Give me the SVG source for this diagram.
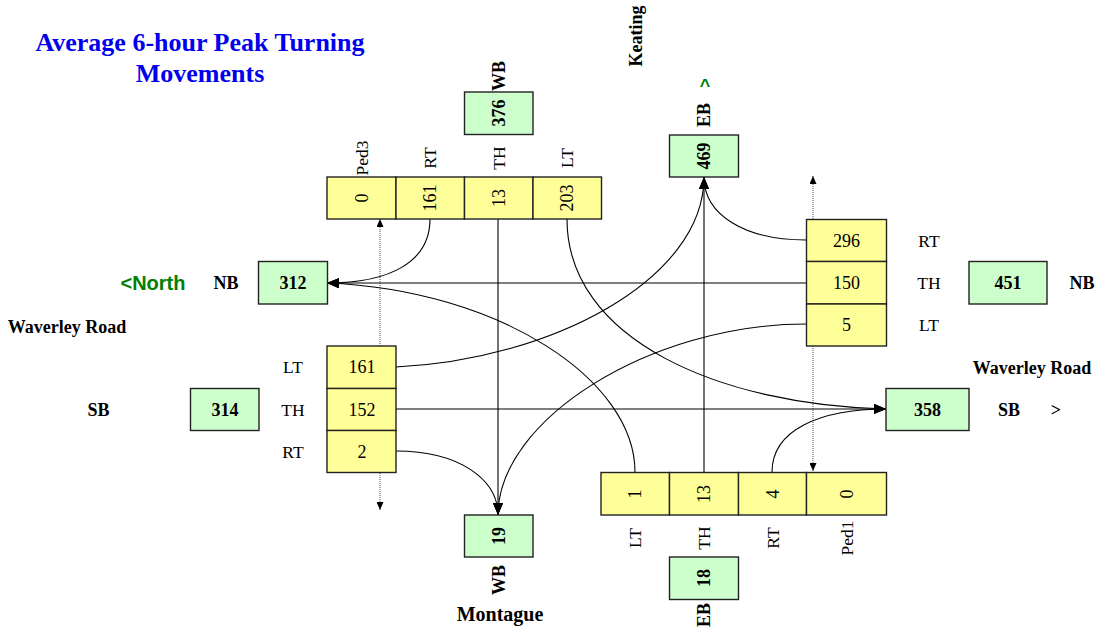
<svg xmlns="http://www.w3.org/2000/svg" width="1099" height="635" viewBox="0 0 1099 635">
  <style>
    .bg { fill: #ffffff; }
    .cell { fill: #ffff99; stroke: #222; stroke-width: 1.4; }
    .tot { fill: #ccffcc; stroke: #222; stroke-width: 1.4; }
    .val { font-family: "Liberation Serif", "Times New Roman", serif; font-size: 18px; fill: #000; text-anchor: middle; dominant-baseline: central; }
    .num { font-family: "Liberation Serif", "Times New Roman", serif; font-size: 18px; font-weight: bold; fill: #000; text-anchor: middle; dominant-baseline: central; }
    .lab { font-family: "Liberation Serif", "Times New Roman", serif; font-size: 17.5px; fill: #000; text-anchor: middle; dominant-baseline: central; }
    .blab { font-family: "Liberation Serif", "Times New Roman", serif; font-size: 18px; font-weight: bold; fill: #000; text-anchor: middle; dominant-baseline: central; }
    .title { font-family: "Liberation Serif", "Times New Roman", serif; font-size: 26px; font-weight: bold; fill: #0000ee; text-anchor: middle; }
    .green { font-family: "Liberation Sans", Arial, sans-serif; font-weight: bold; fill: #008000; text-anchor: middle; dominant-baseline: central; }
    .flow { fill: none; stroke: #000; stroke-width: 1.1; marker-end: url(#arrow); }
    .ped { fill: none; stroke: #777; stroke-width: 1.3; stroke-dasharray: 1 1; marker-start: url(#parrow); marker-end: url(#parrow); }
  </style>
  <defs>
    <marker id="arrow" viewBox="0 0 12 10" refX="12" refY="5" markerWidth="12" markerHeight="10" markerUnits="userSpaceOnUse" orient="auto">
      <path d="M0,0 L12,5 L0,10 z" fill="#000"/>
    </marker>
    <marker id="parrow" viewBox="0 0 8 7" refX="8" refY="3.5" markerWidth="8" markerHeight="7" markerUnits="userSpaceOnUse" orient="auto-start-reverse">
      <path d="M0,0 L8,3.5 L0,7 z" fill="#000"/>
    </marker>
  </defs>

  <rect class="bg" x="0" y="0" width="1099" height="635"/>

  <!-- title -->
  <g id="title">
    <text class="title" x="200" y="51">Average 6-hour Peak Turning</text>
    <text class="title" x="200" y="82">Movements</text>
  </g>

  <!-- street names and compass -->
  <g id="streets">
    <text class="blab" transform="translate(636,36) rotate(-90)">Keating</text>
    <text class="blab" x="67" y="327">Waverley Road</text>
    <text class="blab" x="1032" y="368">Waverley Road</text>
    <text class="blab" x="500" y="614" style="font-size:20px">Montague</text>
    <text class="green" x="153" y="283" style="font-size:20px">&lt;North</text>
    <text class="green" x="705" y="86" style="font-size:18px">^</text>
  </g>

  <!-- connectors -->
  <g id="connectors">
    <path class="ped" d="M380,219 L380,510"/>
    <path class="ped" d="M813,176 L813,471"/>
    <path class="flow" d="M430,219 C430,262 390,283 327,283"/>
    <path class="flow" d="M498,219 L498,515"/>
    <path class="flow" d="M567,219 C567,340 720,405 886,409"/>
    <path class="flow" d="M806,240 C745,240 704,215 704,177"/>
    <path class="flow" d="M806,283 L327,283"/>
    <path class="flow" d="M806,324 C650,324 498,420 498,515"/>
    <path class="flow" d="M396,367 C550,360 704,280 704,177"/>
    <path class="flow" d="M396,409 L886,409"/>
    <path class="flow" d="M396,451 C460,451 498,480 498,515"/>
    <path class="flow" d="M635,472 C635,380 500,290 327,283"/>
    <path class="flow" d="M704,472 L704,177"/>
    <path class="flow" d="M772,472 C772,430 820,409 886,409"/>
  </g>

  <!-- north approach (top) -->
  <g id="approach-top">
    <rect class="cell" x="327" y="177" width="69" height="42"/>
    <rect class="cell" x="396" y="177" width="68.5" height="42"/>
    <rect class="cell" x="464.5" y="177" width="68.5" height="42"/>
    <rect class="cell" x="533" y="177" width="68.5" height="42"/>
    <text class="val" transform="translate(361.5,198) rotate(-90)">0</text>
    <text class="val" transform="translate(430,198) rotate(-90)">161</text>
    <text class="val" transform="translate(498.5,198) rotate(-90)">13</text>
    <text class="val" transform="translate(567,198) rotate(-90)">203</text>
    <text class="lab" transform="translate(361.5,158) rotate(-90)">Ped3</text>
    <text class="lab" transform="translate(430,158) rotate(-90)">RT</text>
    <text class="lab" transform="translate(498.5,158) rotate(-90)">TH</text>
    <text class="lab" transform="translate(567,158) rotate(-90)">LT</text>
  </g>

  <g id="total-top-in">
    <rect class="tot" x="464.5" y="92" width="68.5" height="42.5"/>
    <text class="num" transform="translate(498.5,113) rotate(-90)">376</text>
    <text class="blab" transform="translate(498.5,76) rotate(-90)">WB</text>
  </g>

  <g id="total-top-out">
    <rect class="tot" x="669.5" y="135" width="69" height="42"/>
    <text class="num" transform="translate(704,156) rotate(-90)">469</text>
    <text class="blab" transform="translate(704,115) rotate(-90)">EB</text>
  </g>

  <!-- east approach (right) -->
  <g id="approach-right">
    <rect class="cell" x="806.5" y="219.5" width="80" height="42"/>
    <rect class="cell" x="806.5" y="261.5" width="80" height="42.5"/>
    <rect class="cell" x="806.5" y="304" width="80" height="42"/>
    <text class="val" x="846.5" y="241">296</text>
    <text class="val" x="846.5" y="283">150</text>
    <text class="val" x="846.5" y="325">5</text>
    <text class="lab" x="929" y="241">RT</text>
    <text class="lab" x="929" y="283">TH</text>
    <text class="lab" x="929" y="325">LT</text>
  </g>

  <g id="total-right-in">
    <rect class="tot" x="969" y="261.5" width="78" height="42.5"/>
    <text class="num" x="1008" y="283">451</text>
    <text class="blab" x="1082" y="283">NB</text>
  </g>

  <g id="total-right-out">
    <rect class="tot" x="886" y="388.5" width="83" height="42"/>
    <text class="num" x="927.5" y="410">358</text>
    <text class="blab" x="1009" y="410">SB</text>
    <text class="blab" x="1056" y="410">&gt;</text>
  </g>

  <!-- west approach (left) -->
  <g id="total-left-out">
    <rect class="tot" x="258.5" y="261.5" width="69" height="42.5"/>
    <text class="num" x="293" y="283">312</text>
    <text class="blab" x="226" y="283">NB</text>
  </g>

  <g id="approach-left">
    <rect class="cell" x="327" y="346" width="69" height="42.5"/>
    <rect class="cell" x="327" y="388.5" width="69" height="42"/>
    <rect class="cell" x="327" y="430.5" width="69" height="42"/>
    <text class="val" x="362" y="367">161</text>
    <text class="val" x="362" y="409.5">152</text>
    <text class="val" x="362" y="451.5">2</text>
    <text class="lab" x="293" y="367">LT</text>
    <text class="lab" x="293" y="409.5">TH</text>
    <text class="lab" x="293" y="451.5">RT</text>
  </g>

  <g id="total-left-in">
    <rect class="tot" x="190.5" y="388.5" width="68.5" height="42"/>
    <text class="num" x="225" y="409.5">314</text>
    <text class="blab" x="98.5" y="409.5">SB</text>
  </g>

  <!-- south approach (bottom) -->
  <g id="approach-bottom">
    <rect class="cell" x="601" y="472.5" width="68.5" height="42.5"/>
    <rect class="cell" x="669.5" y="472.5" width="69" height="42.5"/>
    <rect class="cell" x="738.5" y="472.5" width="68" height="42.5"/>
    <rect class="cell" x="806.5" y="472.5" width="80" height="42.5"/>
    <text class="val" transform="translate(635,494) rotate(-90)">1</text>
    <text class="val" transform="translate(704,494) rotate(-90)">13</text>
    <text class="val" transform="translate(772.5,494) rotate(-90)">4</text>
    <text class="val" transform="translate(846.5,494) rotate(-90)">0</text>
    <text class="lab" transform="translate(635,538) rotate(-90)">LT</text>
    <text class="lab" transform="translate(704,538) rotate(-90)">TH</text>
    <text class="lab" transform="translate(772.5,538) rotate(-90)">RT</text>
    <text class="lab" transform="translate(846.5,538) rotate(-90)">Ped1</text>
  </g>

  <g id="total-bottom-out">
    <rect class="tot" x="464.5" y="515" width="68.5" height="42"/>
    <text class="num" transform="translate(498.5,536) rotate(-90)">19</text>
    <text class="blab" transform="translate(498.5,580) rotate(-90)">WB</text>
  </g>

  <g id="total-bottom-in">
    <rect class="tot" x="669.5" y="557" width="69" height="42.5"/>
    <text class="num" transform="translate(704,578) rotate(-90)">18</text>
    <text class="blab" transform="translate(704,615) rotate(-90)">EB</text>
  </g>
</svg>
